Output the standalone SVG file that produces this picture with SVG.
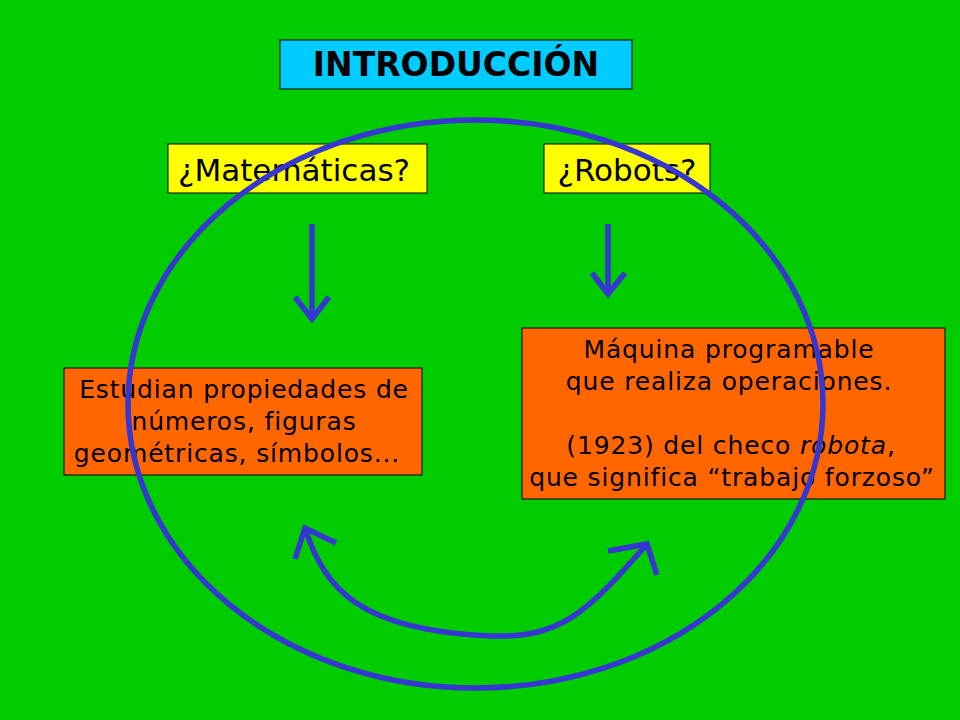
<svg xmlns="http://www.w3.org/2000/svg" width="960" height="720" viewBox="0 0 960 720">
<style>
.box{stroke:#000;stroke-width:1}
.t{font-family:"DejaVu Sans","Liberation Sans",sans-serif;fill:#000;text-anchor:middle}
.body{font-size:25px;letter-spacing:0.85px}
.blue{fill:none;stroke:#3636D2;stroke-width:5.5;stroke-linecap:butt;stroke-linejoin:miter}
</style>
<rect width="960" height="720" fill="#00CC00"/>
<g id="title">
<rect class="box" x="280" y="40" width="352" height="49" fill="#00CCFF"/>
<text class="t" x="456" y="76" font-size="33" font-weight="bold">INTRODUCCIÓN</text>
</g>
<g id="matematicas">
<rect class="box" x="168" y="144" width="259" height="49" fill="#FFFF00"/>
<text class="t" x="294" y="181" font-size="31">¿Matemáticas?</text>
</g>
<g id="robots">
<rect class="box" x="544" y="144" width="166" height="49" fill="#FFFF00"/>
<text class="t" x="627" y="181" font-size="31">¿Robots?</text>
</g>
<g id="estudian">
<rect class="box" x="64" y="368" width="358" height="107" fill="#FF6600"/>
<text class="t body"><tspan x="244" y="398">Estudian propiedades de</tspan><tspan x="244" y="430">números, figuras</tspan><tspan x="237" y="462">geométricas, símbolos...</tspan></text>
</g>
<g id="maquina">
<rect class="box" x="522" y="328" width="423" height="171" fill="#FF6600"/>
<text class="t body"><tspan x="729" y="358">Máquina programable</tspan><tspan x="729" y="390">que realiza operaciones.</tspan><tspan x="731" y="454">(1923) del checo <tspan font-style="italic">robota</tspan>,</tspan><tspan x="732" y="486">que significa “trabajo forzoso”</tspan></text>
</g>
<g id="connectors">
<ellipse class="blue" cx="475.5" cy="404" rx="347.5" ry="284"/>
<path class="blue" d="M312,224 V319 M295,297 L312,319 L329,297"/>
<path class="blue" d="M608,224 V294 M592,273 L608,294 L625,273"/>
<path class="blue" d="M305,528 C325,590 360,630 490,636 C560,638 585,615 647,544"/>
<path class="blue" d="M295,559 L305,528 L336,543"/>
<path class="blue" d="M608,551 L647,544 L657,575"/>
</g>
</svg>
